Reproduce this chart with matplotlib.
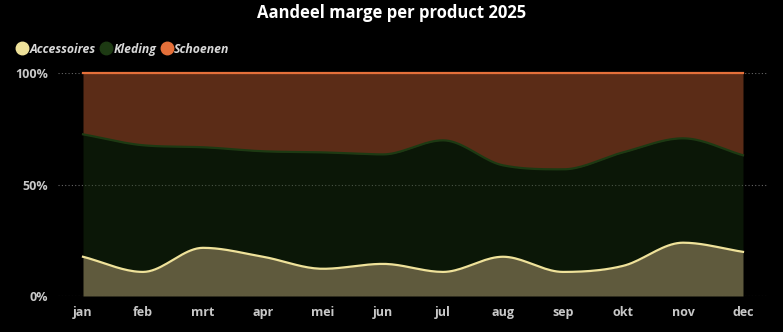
import numpy as np
import matplotlib
matplotlib.use('Agg')
import matplotlib.pyplot as plt
from matplotlib.lines import Line2D

maanden = ['jan', 'feb', 'mrt', 'apr', 'mei', 'jun', 'jul', 'aug', 'sep', 'okt', 'nov', 'dec']
accessoires = [17.6, 10.8, 21.6, 17.6, 12.2, 14.4, 10.8, 17.6, 10.8, 13.5, 23.9, 19.8]
kleding = [54.9, 56.8, 45.1, 47.3, 52.2, 49.1, 59.0, 41.0, 46.0, 50.9, 46.8, 43.3]
schoenen = [27.5, 32.4, 33.3, 35.1, 35.6, 36.5, 30.2, 41.4, 43.2, 35.6, 29.3, 36.9]

kleuren = {'Accessoires': '#efe29a', 'Kleding': '#1d3a13', 'Schoenen': '#e5703a'}

plt.rcParams['font.family'] = ['Open Sans', 'DejaVu Sans']


def monotone(x, y, n=20):
    # monotone cubic (Fritsch-Carlson) only for drawing smooth lines
    x = np.asarray(x, float)
    y = np.asarray(y, float)
    h = np.diff(x)
    d = np.diff(y) / h
    m = np.zeros_like(y)
    m[0], m[-1] = d[0], d[-1]
    for i in range(1, len(y) - 1):
        if d[i - 1] * d[i] <= 0:
            m[i] = 0
        else:
            m[i] = (d[i - 1] + d[i]) / 2
    for i in range(len(d)):
        if d[i] == 0:
            m[i] = m[i + 1] = 0
            continue
        a, b = m[i] / d[i], m[i + 1] / d[i]
        s = a * a + b * b
        if s > 9:
            t = 3 / np.sqrt(s)
            m[i] = t * a * d[i]
            m[i + 1] = t * b * d[i]
    xs, ys = [], []
    for i in range(len(d)):
        t = np.linspace(0, 1, n, endpoint=False)
        h00 = 2 * t**3 - 3 * t**2 + 1
        h10 = t**3 - 2 * t**2 + t
        h01 = -2 * t**3 + 3 * t**2
        h11 = t**3 - t**2
        xs.append(x[i] + t * h[i])
        ys.append(h00 * y[i] + h10 * h[i] * m[i] + h01 * y[i + 1] + h11 * h[i] * m[i + 1])
    xs.append([x[-1]])
    ys.append([y[-1]])
    return np.concatenate(xs), np.concatenate(ys)


x = np.arange(len(maanden))
c1 = np.array(accessoires)
c2 = c1 + np.array(kleding)
c3 = c2 + np.array(schoenen)

fig = plt.figure(figsize=(7.83, 3.32), dpi=100, facecolor='black')
ax = fig.add_axes([58 / 783, 36 / 332, 709 / 783, 223 / 332])
ax.set_facecolor('black')

xs, y1 = monotone(x, c1)
_, y2 = monotone(x, c2)
_, y3 = monotone(x, c3)
base = np.zeros_like(xs)

for lo, hi, naam in [(base, y1, 'Accessoires'), (y1, y2, 'Kleding'), (y2, y3, 'Schoenen')]:
    ax.fill_between(xs, lo, hi, color=kleuren[naam], alpha=0.4, linewidth=0, zorder=2)
    ax.plot(xs, hi, color=kleuren[naam], lw=1.6, zorder=3, clip_on=False)

ax.set_xlim(-25 / 60, 11 + 24 / 60)
ax.set_ylim(0, 100)
ax.set_yticks([0, 50, 100])
ax.set_yticklabels(['0%', '50%', '100%'])
ax.set_xticks(x)
ax.set_xticklabels(maanden)
for y in [0, 50, 100]:
    ax.axhline(y, color='#666666', lw=0.8, ls=(0, (1, 2)), zorder=1)
ax.tick_params(length=0, colors='#c8c8c8', labelsize=9)
ax.tick_params(axis='y', pad=7)
ax.tick_params(axis='x', pad=7)
for lab in ax.get_xticklabels() + ax.get_yticklabels():
    lab.set_fontweight('bold')
for s in ax.spines.values():
    s.set_visible(False)

fig.text(0.5, 0.96, 'Aandeel marge per product 2025', color='white', fontsize=12,
         fontweight='bold', ha='center', va='center')

handles = [Line2D([], [], marker='o', ls='', markersize=9, color=kleuren[n]) for n in kleuren]
leg = fig.legend(handles, list(kleuren), loc='center left', bbox_to_anchor=(0.008, 0.852),
                 ncol=3, frameon=False, handletextpad=0.0, columnspacing=0.25,
                 handlelength=1.2, borderpad=0.2,
                 prop={'size': 8.8, 'weight': 'bold', 'style': 'italic'})
for t in leg.get_texts():
    t.set_color('#d8d8d8')

plt.savefig('out.png', dpi=100, facecolor='black')
